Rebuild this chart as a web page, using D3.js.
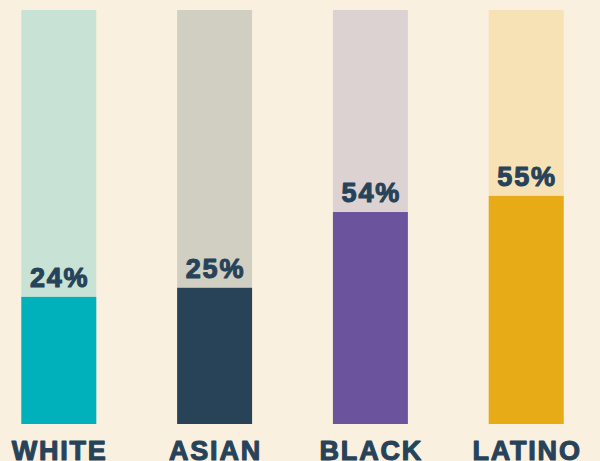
<!DOCTYPE html>
<html>
<head>
<meta charset="utf-8">
<script src="https://cdn.jsdelivr.net/npm/d3@7"></script>
<style>
  body { margin: 0; background: #faf0df; }
  svg { display: block; }
  .label { font-family: "Liberation Sans", Arial, sans-serif; font-weight: 700; fill: #27435a; stroke: #27435a; stroke-width: 1.1px; stroke-linejoin: round; letter-spacing: 1.8px; }
</style>
</head>
<body>
<div id="chart"></div>
<script>
// Data
var groups = ["WHITE", "ASIAN", "BLACK", "LATINO"];
var pctLabels = [24, 25, 54, 55];
// share of the track filled by the dark bar
var fillShare = [30.7, 32.9, 51.2, 55.1];

var trackColors = ["#c8e2d6", "#d1cfc1", "#ddd2d2", "#f7e2b5"];
var fillColors = ["#00b0bb", "#284358", "#6c539e", "#e6ab17"];

var width = 600, height = 461;

var svg = d3.select("#chart")
    .append("svg")
    .attr("width", width)
    .attr("height", height);

svg.append("rect")
    .attr("width", width)
    .attr("height", height)
    .attr("fill", "#faf0df");

// X scale
var x = d3.scaleBand()
    .domain(groups)
    .range([-19.1, 604.1])
    .paddingInner(0.519)
    .paddingOuter(0.2595);

// Y scale
var y = d3.scaleLinear()
    .domain([0, 100])
    .range([424, 10]);

var data = groups.map(function(g, i) {
    return { key: g, pct: pctLabels[i], fill: fillShare[i], track: trackColors[i], color: fillColors[i] };
});

// light tracks
svg.selectAll(".track")
    .data(data)
    .enter()
    .append("rect")
    .attr("class", "track")
    .attr("x", function(d) { return x(d.key); })
    .attr("y", y(100))
    .attr("width", x.bandwidth())
    .attr("height", y(0) - y(100))
    .attr("fill", function(d) { return d.track; });

// dark fills
svg.selectAll(".fill")
    .data(data)
    .enter()
    .append("rect")
    .attr("class", "fill")
    .attr("x", function(d) { return x(d.key); })
    .attr("y", function(d) { return y(d.fill); })
    .attr("width", x.bandwidth())
    .attr("height", function(d) { return y(0) - y(d.fill); })
    .attr("fill", function(d) { return d.color; });

// percentage labels
svg.selectAll(".pct")
    .data(data)
    .enter()
    .append("text")
    .attr("class", "label pct")
    .attr("x", function(d) { return x(d.key) + x.bandwidth() / 2 + 0.9; })
    .attr("y", function(d) { return y(d.fill) - 10; })
    .attr("text-anchor", "middle")
    .style("font-size", "27px")
    .text(function(d) { return d.pct + "%"; });

// category labels
svg.selectAll(".cat")
    .data(data)
    .enter()
    .append("text")
    .attr("class", "label cat")
    .attr("x", function(d) { return x(d.key) + x.bandwidth() / 2 + 0.9; })
    .attr("y", 460)
    .attr("text-anchor", "middle")
    .style("font-size", "27px")
    .text(function(d) { return d.key; });
</script>
</body>
</html>
